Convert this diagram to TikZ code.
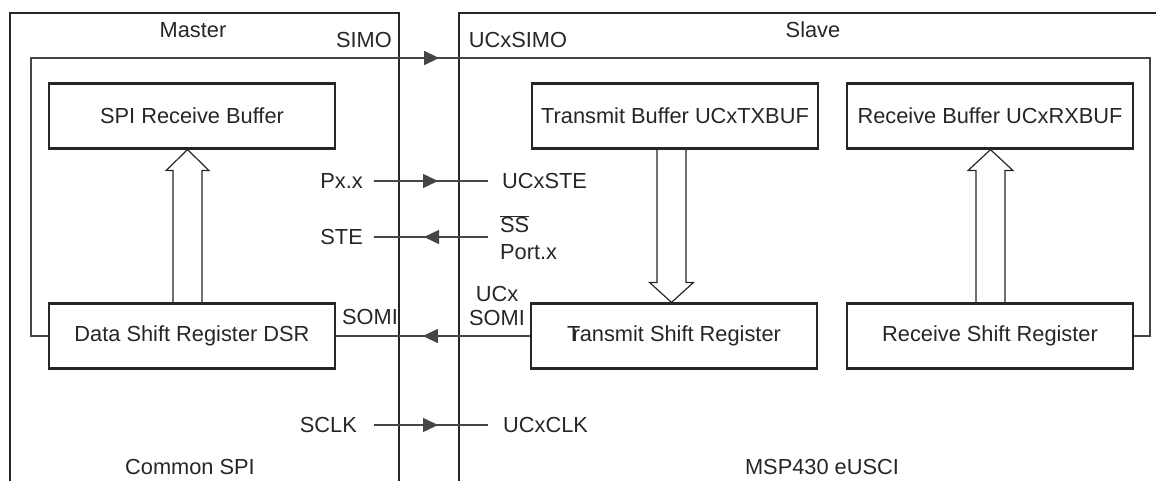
\documentclass[tikz,border=0pt]{standalone}
\usepackage{fontspec}
\setmainfont{Liberation Sans}
\usetikzlibrary{arrows.meta,decorations.markings,calc}
\definecolor{ink}{HTML}{262626}
\definecolor{wirec}{HTML}{454545}
\begin{document}
\begin{tikzpicture}[x=1pt,y=-1pt,
  font=\fontsize{21.8}{24}\selectfont, text=ink,
  box/.style={draw=ink, line width=2.2pt, minimum width=286pt, minimum height=65pt, inner sep=0pt},
  lbl/.style={inner sep=0pt},
  wire/.style={draw=wirec, line width=1.4pt},
  frame/.style={draw=ink, line width=2.2pt},
  hollow/.style={draw=ink, line width=1.2pt, line join=miter},
  arrowat/.style={postaction={decorate}, decoration={markings,
     mark=at position #1 with {\arrow{Triangle[length=15pt,width=14pt]}}}}
]
\useasboundingbox (0,0) rectangle (1156,481);

% outer frames (open at the bottom)
\draw[frame] (10,481) -- (10,13) -- (399,13) -- (399,481);
\draw[frame] (459,481) -- (459,13) -- (1156,13);

% titles
\node[lbl] (master) at (193,30) {Master};
\node[lbl] (slave) at (813,30) {Slave};
\node[lbl] (simo) at (364,40) {SIMO};
\node[lbl] (ucxsimo) at (518,40) {UCxSIMO};
\node[lbl] (common) at (190,467) {Common SPI};
\node[lbl] (msp) at (822,467) {MSP430 eUSCI};

% boxes
\node[box] (spirb) at (192,116) {SPI Receive Buffer};
\node[box] (txb) at (675,116) {Transmit Buffer UCxTXBUF};
\node[box] (rxb) at (990,116) {Receive Buffer UCxRXBUF};
\node[box] (dsr) at (192,336) {Data Shift Register DSR};
\node[box] (txs) at (674,336) {T\kern-0.36em ransmit Shift Register};
\node[box] (rxs) at (990,336) {Receive Shift Register};

% SIMO loop
\coordinate (loopL) at (31,58);
\coordinate (loopR) at (1150,58);
\draw[wire, arrowat=703pt] (dsr.west) -| (loopL) -- (loopR) |- (rxs.east);

% STE signals
\node[lbl, anchor=east] (pxx) at (363,181) {Px.x};
\node[lbl, anchor=west] (ucxste) at (502,181) {UCxSTE};
\draw[wire, arrowat=64pt] ($(pxx.east)+(11,0)$) -- ($(ucxste.west)+(-14,0)$);

\node[lbl, anchor=east] (ste) at (363,237) {STE};
\node[lbl, anchor=base west] (ss) at (500,232.5) {$\overline{\mbox{SS}}$};
\node[lbl, anchor=base west] (portx) at (500,259.5) {Port.x};
\coordinate (steR) at ($(ste.east)+(125,0)$);
\draw[wire, arrowat=64pt] (steR) -- ($(ste.east)+(11,0)$);

% SOMI
\node[lbl] (somiL) at (370,317) {SOMI};
\node[lbl, align=center] (ucxsomi) at (497,306) {UCx\\SOMI};
\draw[wire, arrowat=107pt] (txs.west) -- (dsr.east);

% SCLK
\node[lbl, anchor=east] (sclk) at (357,425) {SCLK};
\node[lbl, anchor=west] (ucxclk) at (503,425) {UCxCLK};
\draw[wire, arrowat=64pt] ($(sclk.east)+(17,0)$) -- ($(ucxclk.west)+(-15,0)$);

% hollow data-flow arrows
\draw[hollow] let \p1=(dsr.north), \p2=(spirb.south), \n1={\x1-4.5pt} in
  (\n1-14.5pt,\y1) -- (\n1-14.5pt,\y2-21pt) -- (\n1-21.5pt,\y2-21pt) -- (\n1,\y2)
  -- (\n1+21.5pt,\y2-21pt) -- (\n1+14.5pt,\y2-21pt) -- (\n1+14.5pt,\y1);
\draw[hollow] let \p1=(txb.south), \p2=(txs.north), \n1={\x1-3.5pt} in
  (\n1-14.5pt,\y1) -- (\n1-14.5pt,\y2+20pt) -- (\n1-22pt,\y2+20pt) -- (\n1,\y2)
  -- (\n1+22pt,\y2+20pt) -- (\n1+14.5pt,\y2+20pt) -- (\n1+14.5pt,\y1);
\draw[hollow] let \p1=(rxs.north), \p2=(rxb.south), \n1={\x1+0.5pt} in
  (\n1-14.5pt,\y1) -- (\n1-14.5pt,\y2-21pt) -- (\n1-22.5pt,\y2-21pt) -- (\n1,\y2)
  -- (\n1+22.5pt,\y2-21pt) -- (\n1+14.5pt,\y2-21pt) -- (\n1+14.5pt,\y1);
\end{tikzpicture}
\end{document}
